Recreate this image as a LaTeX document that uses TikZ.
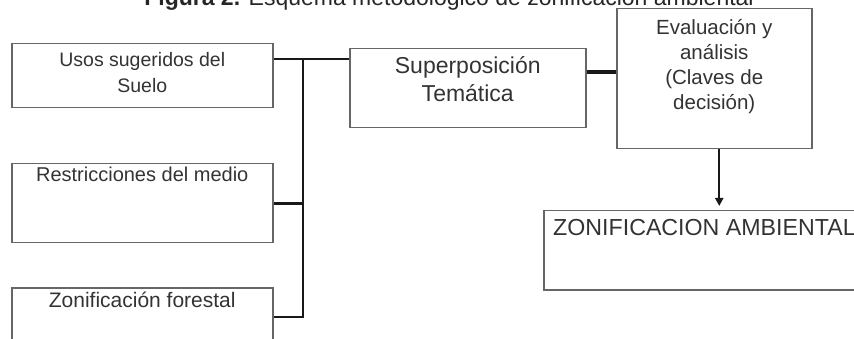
\documentclass[tikz,border=0pt]{standalone}
\usepackage{fontspec}
\setmainfont{Liberation Sans}
\usetikzlibrary{arrows.meta}

\begin{document}
\begin{tikzpicture}[x=1pt,y=-1pt,
    caja/.style={draw=black!60,line width=1.5pt,anchor=north west,inner sep=0pt},
    texto/.style={anchor=north,align=center,text=black!80,inner sep=0pt},
    linea/.style={line width=2.8pt,black!90}]
  \useasboundingbox (0,0) rectangle (854,339);
  \clip (0,0) rectangle (854,339);
  \node[anchor=base,text=black!85,font=\fontsize{23}{26}\selectfont] (titulo) at (449,6) {\textbf{Figura 2.} Esquema metodológico de zonificación ambiental};
  % cajas de entrada
  \node[caja,minimum width=261pt,minimum height=64pt] (usos) at (11,43) {};
  \node[texto,font=\fontsize{19.5}{26}\selectfont] (usost) at ([yshift=-9pt]usos.north) {Usos sugeridos del\\Suelo};
  \node[caja,minimum width=261pt,minimum height=79pt] (restric) at (11,163) {};
  \node[texto,font=\fontsize{20}{25}\selectfont] (restrict) at ([yshift=-4pt]restric.north) {Restricciones del medio};
  \node[caja,minimum width=261pt,minimum height=80pt] (forestal) at (11,287) {};
  \node[texto,font=\fontsize{21}{25}\selectfont] (forestalt) at ([yshift=-5pt]forestal.north) {Zonificación forestal};
  % cajas centrales
  \node[caja,minimum width=236pt,minimum height=79pt] (superp) at (349,48) {};
  \node[texto,font=\fontsize{23}{28}\selectfont] (superpt) at ([yshift=-8pt]superp.north) {Superposición\\Temática};
  \node[caja,minimum width=195pt,minimum height=140pt] (eval) at (616,8) {};
  \node[texto,font=\fontsize{20.5}{25}\selectfont] (evalt) at ([yshift=-11pt]eval.north) {Evaluación y\\análisis\\(Claves de\\decisión)};
  \node[caja,minimum width=340pt,minimum height=79pt] (zonif) at (543,210) {};
  \node[texto,anchor=north west,font=\fontsize{23.2}{26}\selectfont] (zonift) at ([xshift=10pt,yshift=-9pt]zonif.north west) {ZONIFICACION AMBIENTAL};
  % conectores
  \coordinate (nodo) at (303,59);
  \coordinate (pie) at (303,317);
  \draw[linea] (nodo -| usos.east) -- (nodo -| superp.west);
  \draw[linea] (nodo) -- (pie) -- (pie -| forestal.east);
  \draw[linea] (restric.east) -- (restric.east -| nodo);
  \coordinate (enlace) at ([yshift=-24pt]superp.north east);
  \draw[linea,line width=3.6pt] (enlace) -- (enlace -| eval.west);
  \coordinate (flecha) at ([xshift=5pt]eval.south);
  \draw[linea,line width=2.4pt,shorten >=4pt,-{Triangle[length=8pt,width=8pt]}] (flecha) -- (flecha |- zonif.north);
\end{tikzpicture}
\end{document}
